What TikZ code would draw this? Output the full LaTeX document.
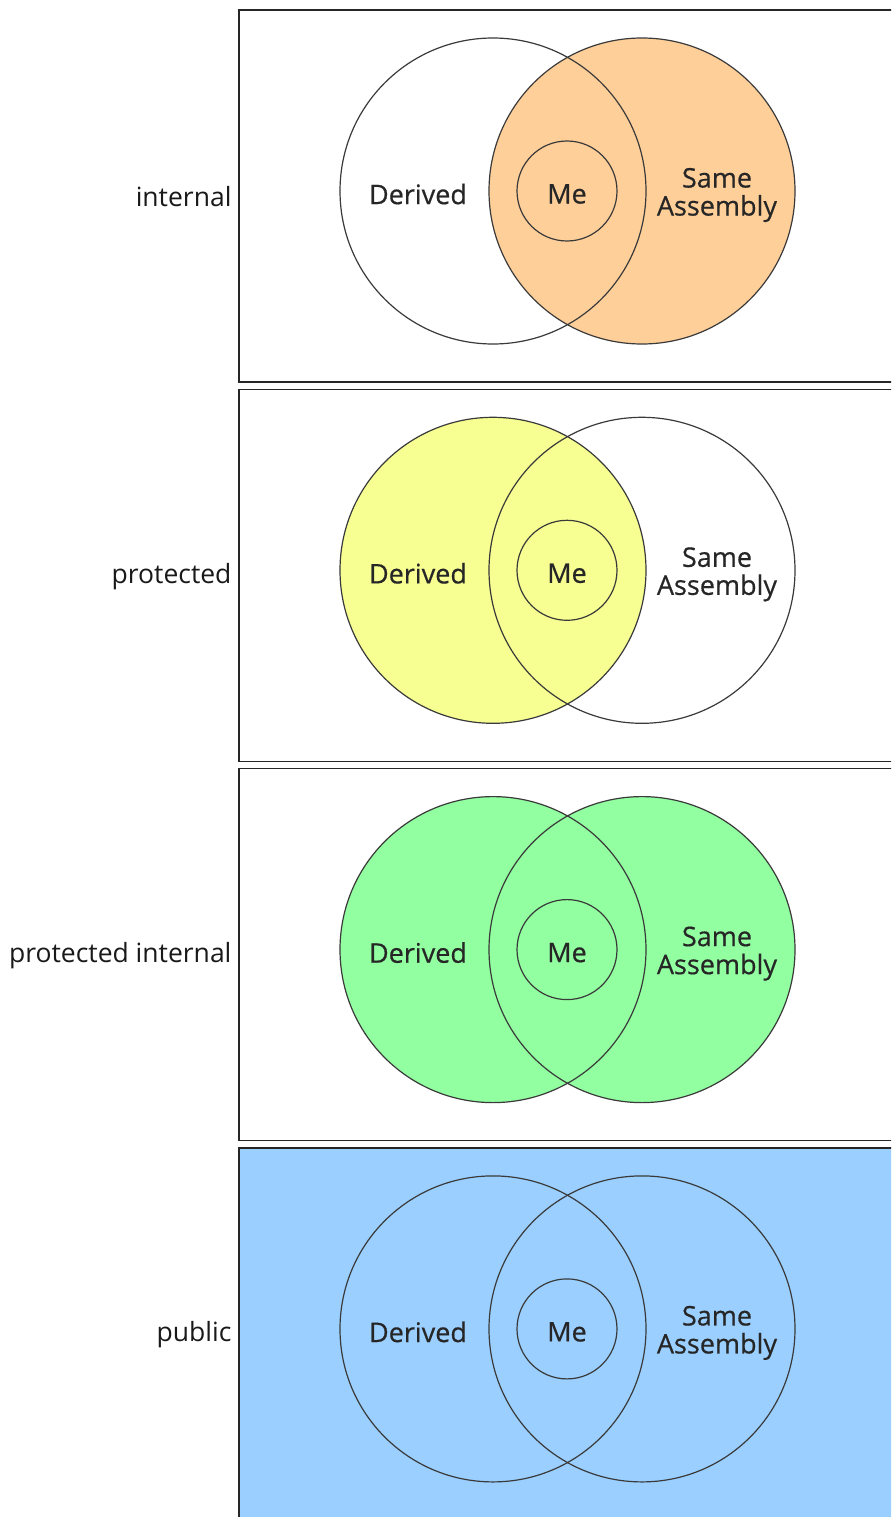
\documentclass[tikz,border=0pt]{standalone}
\usepackage{fontspec}
\setmainfont{Open Sans}
\newfontfamily\tagfont[FakeBold=0.5]{Open Sans}
\usetikzlibrary{positioning}
\definecolor{intorange}{HTML}{FFCF99}
\definecolor{protyellow}{HTML}{F7FF92}
\definecolor{pintgreen}{HTML}{92FFA1}
\definecolor{pubblue}{HTML}{9ACFFF}
\definecolor{ringgray}{HTML}{3A3A3A}

\tikzset{
  panel/.style={draw=black!85, line width=1.6pt},
  ring/.style={circle, draw=ringgray, line width=1.2pt, minimum size=306pt, inner sep=0pt},
  mering/.style={circle, draw=ringgray, line width=1.2pt, minimum size=100pt, inner sep=0pt},
  tag/.style={font=\tagfont\fontsize{27}{28}\selectfont, text=black!85, align=center},
  rowlabel/.style={anchor=east, font=\fontsize{26.5}{28}\selectfont, text=black!90}
}

\begin{document}
\begin{tikzpicture}[x=1pt, y=-1pt]
  \useasboundingbox (0,0) rectangle (891,1517);
  \clip (0,0) rectangle (891,1517);
  \foreach \name/\row/\lfill/\rfill/\bg in {internal/0/none/intorange/white,
      protected/1/protyellow/none/white,
      protected internal/2/pintgreen/pintgreen/white,
      public/3/none/none/pubblue}{
    \pgfmathsetmacro\yc{191+379.3*\row}
    % frame and fills
    \path[panel, fill=\bg] (239,\yc-181) rectangle (905,\yc+191);
    \path[fill=\lfill] (493,\yc) circle[radius=153];
    \path[fill=\rfill] (642,\yc) circle[radius=153];
    % rings
    \node[ring] (derived\row) at (493,\yc) {};
    \node[ring] (assembly\row) at (642,\yc) {};
    \node[mering] (me\row) at (567,\yc) {};
    % labels
    \node[tag] (melabel\row) at (567,\yc+3) {Me};
    \node[tag] (dlabel\row) at (418,\yc+3) {Derived};
    \node[tag] (alabel\row) at (717,\yc+4) {Same\\Assembly};
    \node[rowlabel] (kind\row) at (235,\yc+6) {\name};
  }
\end{tikzpicture}
\end{document}
